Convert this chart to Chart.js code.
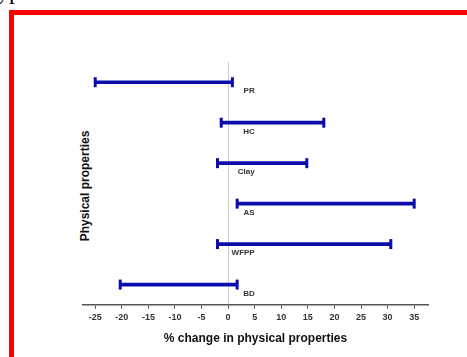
<!DOCTYPE html>
<html>
<head>
<meta charset="utf-8">
<script src="https://cdn.jsdelivr.net/npm/chart.js@4/dist/chart.umd.min.js"></script>
<style>
  body { margin: 0; background: #fff; width: 467px; height: 357px; overflow: hidden; position: relative; }
  #frame { position: absolute; left: 9px; top: 10px; width: 600px; height: 500px; border-left: 5px solid #ff0000; border-top: 5px solid #ff0000; }
  #cut { position: absolute; left: -3px; top: -22px; font: 24px "Liberation Serif", "Times New Roman", serif; color: #000; }
  #ytitle { position: absolute; left: 85px; top: 186px; transform: translate(-50%, -50%) rotate(-90deg); white-space: nowrap;
            font: bold 12px "Liberation Sans", Arial, sans-serif; color: #111; }
  canvas { position: absolute; left: 0; top: 0; }
</style>
</head>
<body>
<div id="cut">ype.</div>
<div id="frame"></div>
<div id="ytitle">Physical properties</div>
<canvas id="myChart" width="467" height="357"></canvas>
<script>
var categories = ["PR", "HC", "Clay", "AS", "WFPP", "BD"];
var lowValues = [-25, -1.3, -2, 1.7, -2, -20.3];
var highValues = [0.8, 18, 14.8, 35, 30.6, 1.7];
var tickValues = [-25, -20, -15, -10, -5, 0, 5, 10, 15, 20, 25, 30, 35];

var ranges = [];
categories.forEach(function (c, i) {
    ranges.push([lowValues[i], highValues[i]]);
});

var blue = "#0c0cab";
var font = "'Liberation Sans', Arial, sans-serif";

// end caps + the small labels under each bar
var capsPlugin = {
    id: "caps",
    afterDatasetsDraw: function (chart) {
        var ctx = chart.ctx;
        var meta = chart.getDatasetMeta(0);
        var xs = chart.scales.x;
        ctx.save();
        ctx.fillStyle = blue;
        meta.data.forEach(function (bar) {
            ctx.fillRect(bar.x - 1.5, bar.y - 5, 3, 10);
            ctx.fillRect(bar.base - 1.5, bar.y - 5, 3, 10);
        });
        ctx.fillStyle = "#333";
        ctx.font = "bold 8px " + font;
        ctx.textAlign = "right";
        ctx.textBaseline = "middle";
        meta.data.forEach(function (bar, i) {
            ctx.fillText(categories[i], xs.getPixelForValue(5), bar.y + 9);
        });
        ctx.restore();
    }
};

var ctx = document.getElementById("myChart").getContext("2d");
var chart = new Chart(ctx, {
    type: "bar",
    data: {
        labels: categories,
        datasets: [{
            label: "change",
            data: ranges,
            backgroundColor: blue,
            borderWidth: 0,
            barThickness: 3
        }]
    },
    options: {
        indexAxis: "y",
        responsive: false,
        animation: false,
        layout: { padding: { left: 83, right: 39, top: 62, bottom: 11 } },
        plugins: { legend: { display: false }, tooltip: { enabled: false } },
        scales: {
            x: {
                min: -27.3,
                max: 37.6,
                afterBuildTicks: function (scale) {
                    scale.ticks = tickValues.map(function (v) { return { value: v }; });
                },
                grid: {
                    color: function (c) { return c.tick && c.tick.value === 0 ? "#cccccc" : "rgba(0,0,0,0)"; },
                    tickColor: "#555",
                    tickLength: 4,
                    lineWidth: 1
                },
                border: { color: "#555", width: 1.5 },
                ticks: { color: "#333", font: { family: font, size: 9, weight: "bold" }, padding: 3, maxRotation: 0 },
                title: {
                    display: true,
                    text: "% change in physical properties",
                    color: "#111",
                    font: { family: font, size: 12, weight: "bold" },
                    padding: { top: 6, bottom: 0 }
                }
            },
            y: { display: false }
        }
    },
    plugins: [capsPlugin]
});
</script>
</body>
</html>
